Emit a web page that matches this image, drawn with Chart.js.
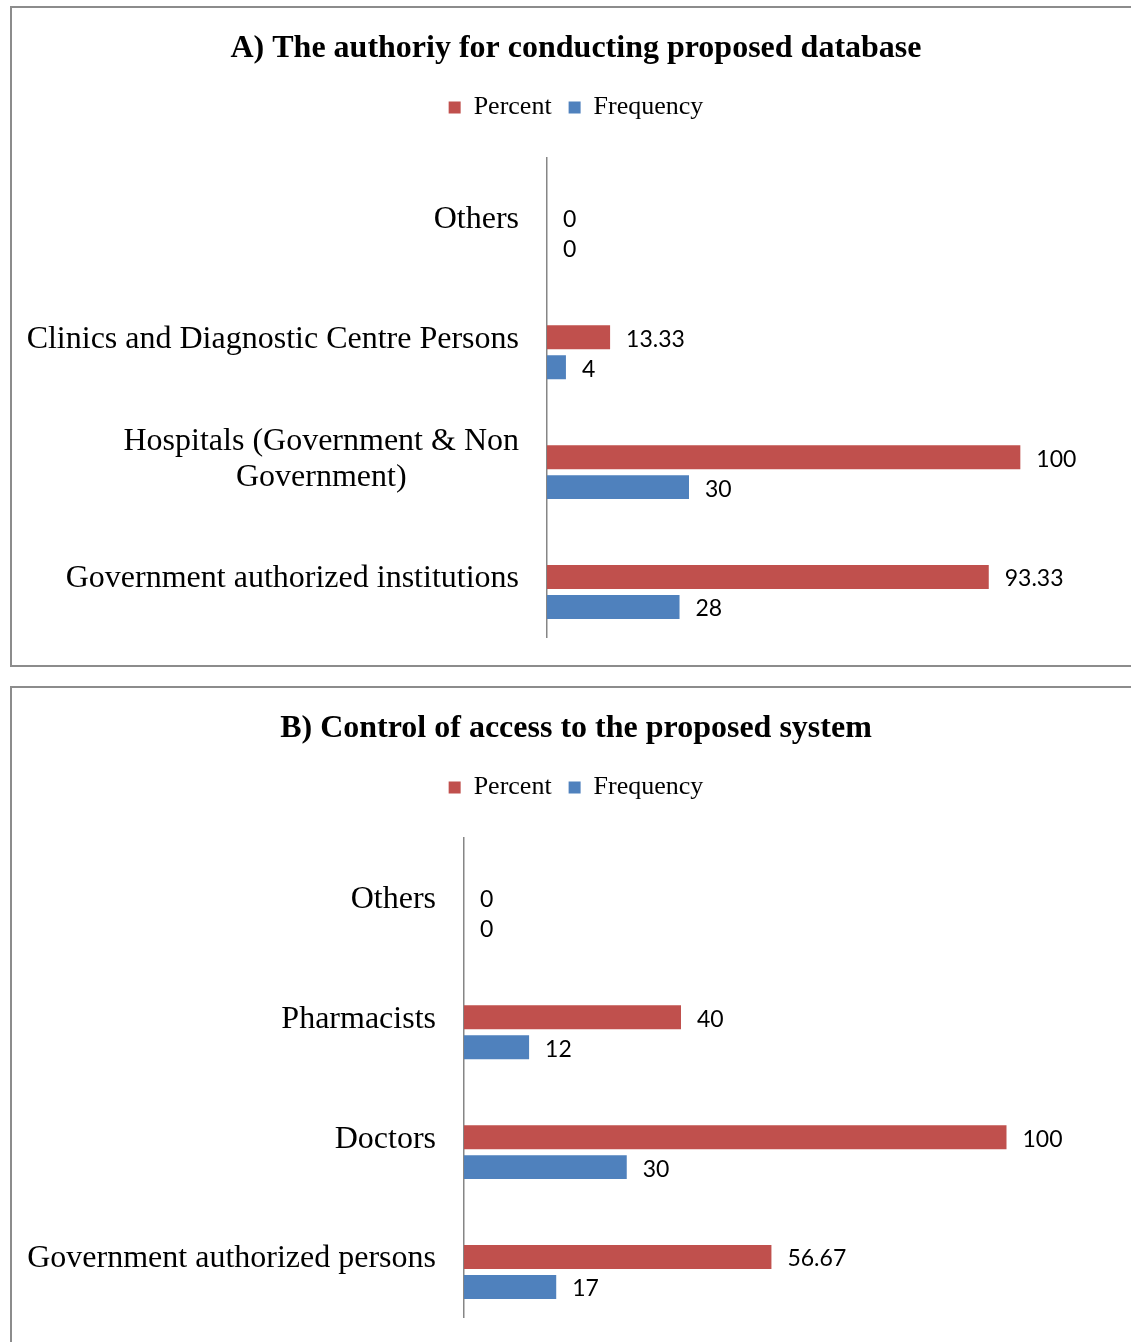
<!DOCTYPE html>
<html>
<head>
<meta charset="utf-8">
<script src="https://cdn.jsdelivr.net/npm/chart.js@4.4.0/dist/chart.umd.min.js"></script>
<style>
  html, body { margin: 0; padding: 0; background: #fff; overflow: hidden; }
  body { width: 1131px; height: 1342px; position: relative; }
  .panel { position: absolute; left: 10px; width: 1128px; height: 657px; border: 2px solid #8c8c8c; background: #fff; }
  #panelA { top: 6px; }
  #panelB { top: 686px; }
  canvas { display: block; }
</style>
</head>
<body>
<div class="panel" id="panelA"><canvas id="chartA"></canvas></div>
<div class="panel" id="panelB"><canvas id="chartB"></canvas></div>
<script>
const seriesNames = ['Percent', 'Frequency'];
const seriesColors = ['#C0504D', '#4F81BD'];

const labelsA = ['Others', 'Clinics and Diagnostic Centre Persons', ['Hospitals (Government & Non', 'Government)'], 'Government authorized institutions'];
const percentA = [0, 13.33, 100, 93.33];
const frequencyA = [0, 4, 30, 28];

const labelsB = ['Others', 'Pharmacists', 'Doctors', 'Government authorized persons'];
const percentB = [0, 40, 100, 56.67];
const frequencyB = [0, 12, 30, 17];

const xMax = 120;
const sidePad = 25;

// category names, right aligned to the axis; wrapped names are centred line by line
const categoryLabels = {
  id: 'categoryLabels',
  afterDraw(chart) {
    const y = chart.scales.y;
    const ctx = chart.ctx;
    ctx.save();
    ctx.font = '32px "Liberation Serif"';
    ctx.fillStyle = '#000';
    ctx.textBaseline = 'middle';
    ctx.textAlign = 'center';
    const right = y.right - 28;
    chart.data.labels.forEach((lab, i) => {
      const lines = Array.isArray(lab) ? lab : [lab];
      const w = Math.max(...lines.map(l => ctx.measureText(l).width));
      const cy = y.getPixelForTick(i) + 2;
      lines.forEach((l, j) => {
        ctx.fillText(l, right - w / 2, cy + (j - (lines.length - 1) / 2) * 36);
      });
    });
    ctx.restore();
  }
};

// value printed just past the end of each bar
const valueLabels = {
  id: 'valueLabels',
  afterDatasetsDraw(chart) {
    const ctx = chart.ctx;
    ctx.save();
    ctx.font = '23px Lato';
    ctx.fillStyle = '#000';
    ctx.textBaseline = 'middle';
    ctx.textAlign = 'left';
    chart.data.datasets.forEach((ds, di) => {
      if (ds.spacer) return;
      chart.getDatasetMeta(di).data.forEach((bar, i) => {
        const v = ds.data[i];
        if (v === null) return;
        ctx.fillText(String(v), bar.x + 16, bar.y + 2);
      });
    });
    ctx.restore();
  }
};

// extra room between the legend and the plot
const legendGap = {
  id: 'legendGap',
  afterInit(chart) {
    const fit = chart.legend.fit;
    chart.legend.fit = function () {
      fit.call(this);
      this.height += 27;
    };
  }
};

function makeChart(id, title, labels, percent, frequency, axisX) {
  const datasets = [
    // empty slot above each pair of bars
    { label: '', spacer: true, data: labels.map(() => null), backgroundColor: 'transparent' },
    { label: seriesNames[0], data: percent, backgroundColor: seriesColors[0], borderWidth: 0 },
    { label: seriesNames[1], data: frequency, backgroundColor: seriesColors[1], borderWidth: 0 }
  ];
  return new Chart(document.getElementById(id), {
    type: 'bar',
    data: { labels, datasets },
    options: {
      indexAxis: 'y',
      responsive: true,
      maintainAspectRatio: false,
      animation: false,
      layout: { padding: { top: 0, right: sidePad, bottom: 28, left: sidePad } },
      datasets: { bar: { barPercentage: 0.8, categoryPercentage: 0.75 } },
      scales: {
        x: { min: 0, max: xMax, display: false },
        y: {
          grid: { display: false },
          border: { display: true, color: '#868686', width: 1.5 },
          ticks: { display: false },
          afterFit(s) { s.width = axisX - sidePad; }
        }
      },
      plugins: {
        title: {
          display: true,
          text: title,
          color: '#000',
          font: { family: 'Liberation Serif', size: 32, weight: 'bold' },
          padding: { top: 22, bottom: 9 }
        },
        legend: {
          display: true,
          labels: {
            color: '#000',
            font: { family: 'Liberation Serif', size: 26 },
            boxWidth: 12,
            boxHeight: 12,
            padding: 17,
            filter: item => item.text !== ''
          }
        },
        tooltip: { enabled: false }
      }
    },
    plugins: [categoryLabels, valueLabels, legendGap]
  });
}

makeChart('chartA', 'A) The authoriy for conducting proposed database', labelsA, percentA, frequencyA, 535);
makeChart('chartB', 'B) Control of access to the proposed system', labelsB, percentB, frequencyB, 452);
</script>
</body>
</html>
